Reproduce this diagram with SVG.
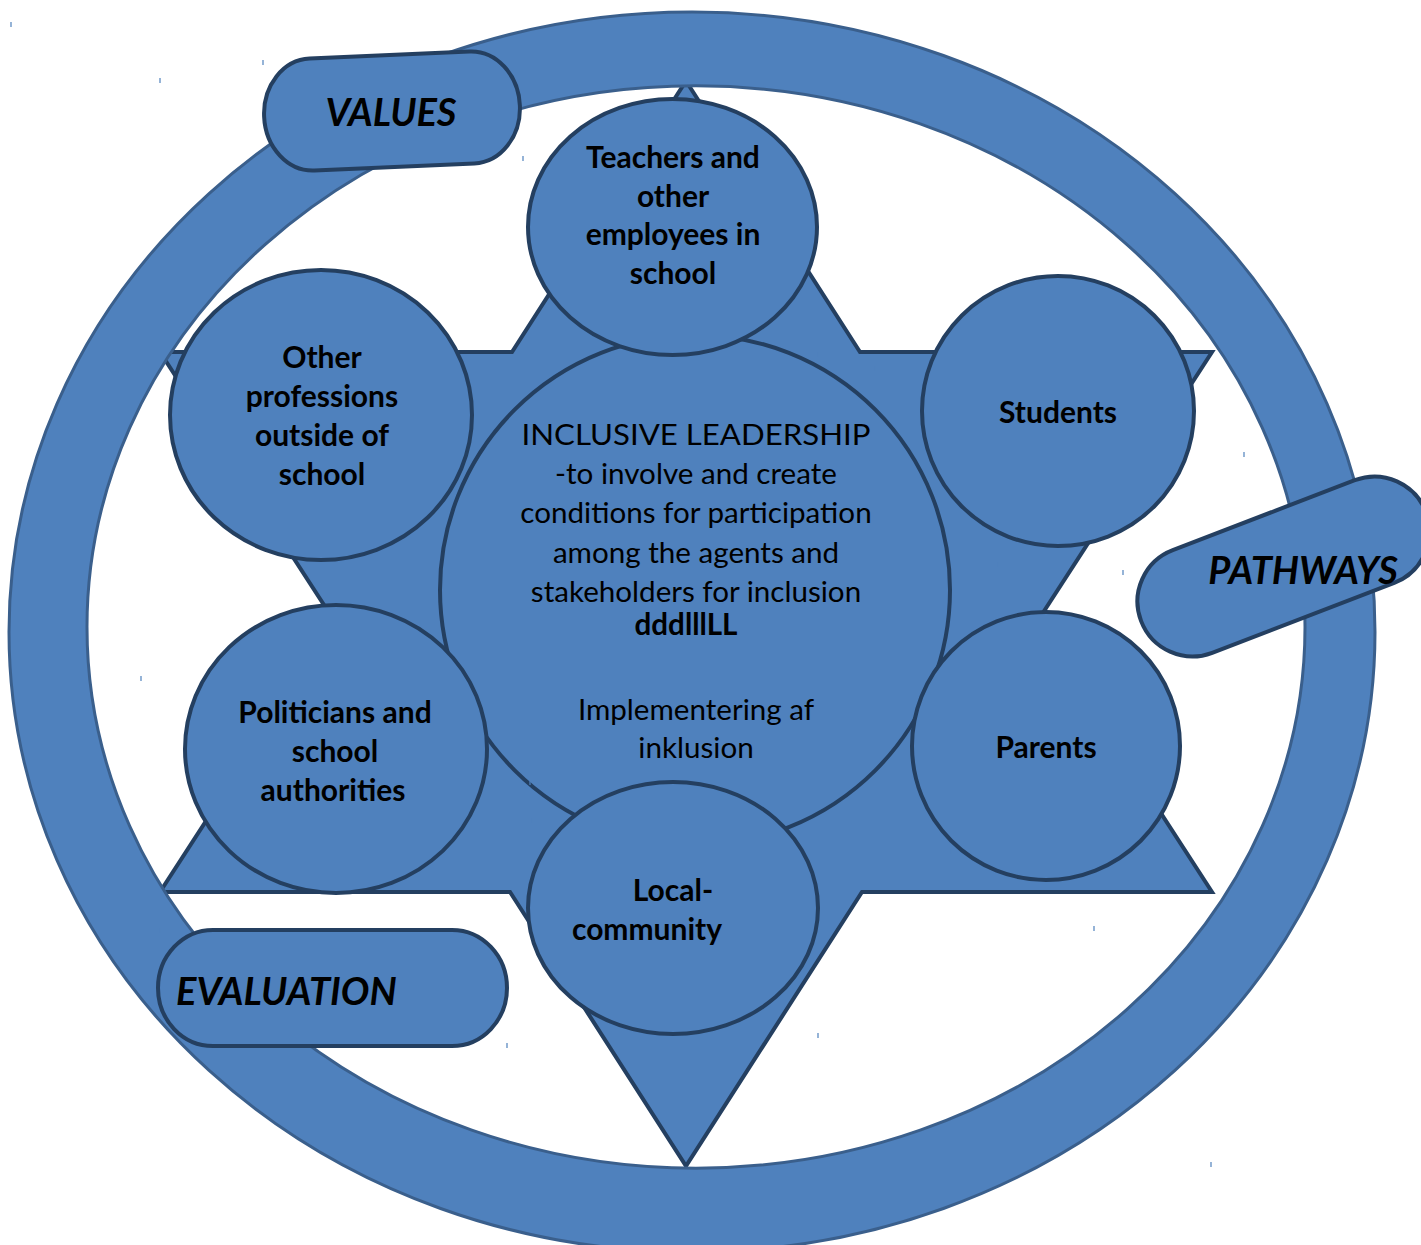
<svg xmlns="http://www.w3.org/2000/svg" width="1421" height="1245" viewBox="0 0 1421 1245">
  <style>
    .shape { fill: #4f81bd; stroke: #243f60; stroke-width: 4; }
    .ring { fill: #4f81bd; fill-rule: evenodd; stroke: #3a5f8c; stroke-width: 3; }
    .lbl { font-family: "Lato", "Carlito", "Liberation Sans", sans-serif; font-weight: bold; font-size: 30px; fill: #000; text-anchor: middle; }
    .core { font-family: "Lato", "Carlito", "Liberation Sans", sans-serif; font-size: 29.6px; fill: #000; text-anchor: middle; }
    .tag { font-family: "Lato", "Carlito", "Liberation Sans", sans-serif; font-weight: bold; font-style: italic; font-size: 38px; fill: #000; }
    .tick { stroke: #4f81bd; stroke-width: 1.2; }
  </style>
  <rect width="1421" height="1245" fill="#ffffff"/>

  <!-- six-pointed star behind the circles -->
  <g id="star">
    <polygon class="shape" points="686,81 860,352 1212,352 1037,622 1212,892 862,892 686,1166 510,892 160,892 335,622 160,352 512,352"/>
  </g>

  <!-- outer ring -->
  <g id="ring">
    <path class="ring" d="M9,632 A683,620 0 1 0 1375,632 A683,620 0 1 0 9,632 Z M87,627 A609,541 0 1 1 1305,627 A609,541 0 1 1 87,627 Z"/>
  </g>

  <!-- central circle -->
  <g id="inclusive-leadership">
    <ellipse class="shape" cx="695" cy="590" rx="255" ry="255"/>
    <text class="core" x="696" y="445" font-size="35" textLength="349" lengthAdjust="spacingAndGlyphs">INCLUSIVE LEADERSHIP</text>
    <text class="core" x="696" y="484">-to involve and create</text>
    <text class="core" x="696" y="523">conditions for participation</text>
    <text class="core" x="696" y="563">among the agents and</text>
    <text class="core" x="696" y="602">stakeholders for inclusion</text>
    <text class="core" x="686" y="635" font-weight="bold">dddlllLL</text>
    <text class="core" x="696" y="720">Implementering af</text>
    <text class="core" x="696" y="758">inklusion</text>
  </g>

  <!-- stakeholder circles -->
  <g id="teachers">
    <ellipse class="shape" cx="672.5" cy="227" rx="144.5" ry="128"/>
    <text class="lbl" x="673" y="168">Teachers and</text>
    <text class="lbl" x="673" y="207">other</text>
    <text class="lbl" x="673" y="245">employees in</text>
    <text class="lbl" x="673" y="284">school</text>
  </g>

  <g id="other-professions">
    <ellipse class="shape" cx="321" cy="415" rx="151" ry="145"/>
    <text class="lbl" x="322" y="368">Other</text>
    <text class="lbl" x="322" y="407">professions</text>
    <text class="lbl" x="322" y="446">outside of</text>
    <text class="lbl" x="322" y="485">school</text>
  </g>

  <g id="students">
    <ellipse class="shape" cx="1058" cy="411" rx="136" ry="135"/>
    <text class="lbl" x="1058" y="423">Students</text>
  </g>

  <g id="politicians">
    <ellipse class="shape" cx="336" cy="749" rx="151" ry="144"/>
    <text class="lbl" x="335" y="723">Politicians and</text>
    <text class="lbl" x="335" y="762">school</text>
    <text class="lbl" x="333" y="801">authorities</text>
  </g>

  <g id="parents">
    <ellipse class="shape" cx="1046" cy="746" rx="134" ry="134"/>
    <text class="lbl" x="1046" y="758">Parents</text>
  </g>

  <g id="local-community">
    <ellipse class="shape" cx="673" cy="908" rx="145" ry="126"/>
    <text class="lbl" x="673" y="901">Local-</text>
    <text class="lbl" x="647" y="940">community</text>
  </g>

  <!-- labels set on the ring -->
  <g id="values">
    <rect class="shape" x="-128" y="-56" width="256" height="112" rx="48" ry="56" transform="translate(392,111) rotate(-2.5)"/>
    <text class="tag" x="391" y="126" text-anchor="middle">VALUES</text>
  </g>

  <g id="pathways">
    <rect class="shape" x="-152.5" y="-55" width="305" height="110" rx="55" ry="55" transform="translate(1283.5,566.5) rotate(-21)"/>
    <text class="tag" x="1303" y="584" text-anchor="middle">PATHWAYS</text>
  </g>

  <g id="evaluation">
    <rect class="shape" x="158" y="930" width="349" height="116" rx="55" ry="58"/>
    <text class="tag" x="176" y="1005">EVALUATION</text>
  </g>

  <!-- stray tick marks -->
  <g id="ticks" class="tick">
    <line x1="11" y1="22" x2="11" y2="27"/>
    <line x1="160" y1="78" x2="160" y2="83"/>
    <line x1="263" y1="60" x2="263" y2="65"/>
    <line x1="523" y1="156" x2="523" y2="161"/>
    <line x1="818" y1="352" x2="818" y2="357"/>
    <line x1="875" y1="366" x2="875" y2="371"/>
    <line x1="998" y1="562" x2="998" y2="567"/>
    <line x1="1123" y1="570" x2="1123" y2="575"/>
    <line x1="1244" y1="452" x2="1244" y2="457"/>
    <line x1="141" y1="676" x2="141" y2="681"/>
    <line x1="530" y1="780" x2="530" y2="785"/>
    <line x1="532" y1="818" x2="532" y2="823"/>
    <line x1="951" y1="849" x2="951" y2="854"/>
    <line x1="160" y1="928" x2="160" y2="933"/>
    <line x1="507" y1="1043" x2="507" y2="1048"/>
    <line x1="1094" y1="926" x2="1094" y2="931"/>
    <line x1="818" y1="1033" x2="818" y2="1038"/>
    <line x1="1211" y1="1162" x2="1211" y2="1167"/>
  </g>
</svg>
